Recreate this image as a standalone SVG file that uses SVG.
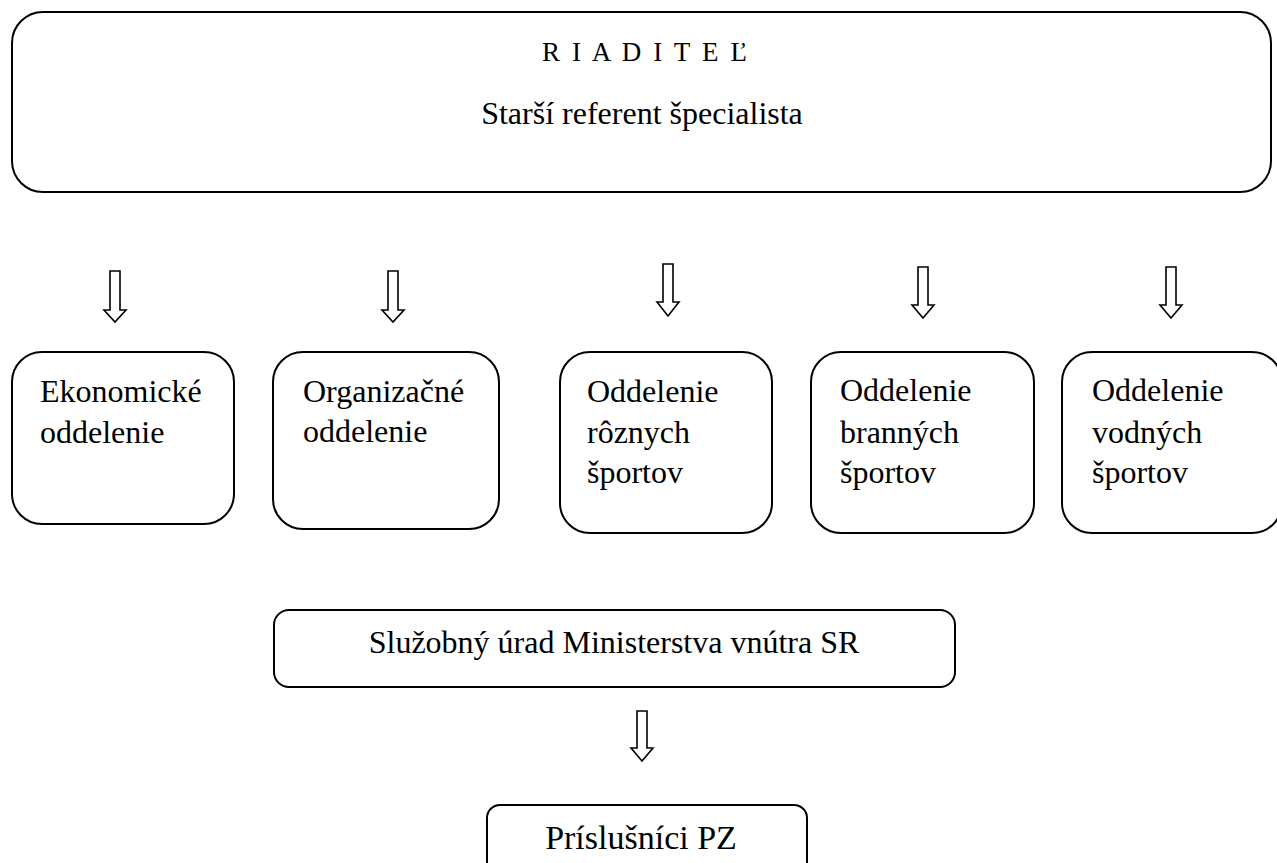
<svg xmlns="http://www.w3.org/2000/svg" width="1277" height="863" viewBox="0 0 1277 863">
<style>
.box{fill:#fff;stroke:#000;stroke-width:2}
.t{font-family:"Liberation Serif","Times New Roman",serif;font-size:32px;fill:#000}
.arr{fill:#fff;stroke:#000;stroke-width:1.6;stroke-linejoin:miter}
</style>
<rect width="1277" height="863" fill="#fff"/>
<g id="riaditel">
<rect class="box" x="12" y="12" width="1259" height="180" rx="31" ry="31"/>
<text class="t" x="542" y="61" style="font-size:27px" textLength="205" lengthAdjust="spacing">R I A D I T E Ľ</text>
<text class="t" x="642" y="124" text-anchor="middle">Starší referent špecialista</text>
</g>
<g id="ekonomicke">
<rect class="box" x="12" y="352" width="222" height="172" rx="30" ry="30"/>
<text class="t" x="40" y="402">Ekonomické</text>
<text class="t" x="40" y="443">oddelenie</text>
</g>
<g id="organizacne">
<rect class="box" x="273" y="352" width="226" height="177" rx="30" ry="30"/>
<text class="t" x="303" y="402">Organizačné</text>
<text class="t" x="303" y="442">oddelenie</text>
</g>
<g id="roznych">
<rect class="box" x="560" y="352" width="212" height="181" rx="30" ry="30"/>
<text class="t" x="587" y="402">Oddelenie</text>
<text class="t" x="587" y="443">rôznych</text>
<text class="t" x="587" y="483">športov</text>
</g>
<g id="brannych">
<rect class="box" x="811" y="352" width="223" height="181" rx="30" ry="30"/>
<text class="t" x="840" y="401">Oddelenie</text>
<text class="t" x="840" y="443">branných</text>
<text class="t" x="840" y="483">športov</text>
</g>
<g id="vodnych">
<rect class="box" x="1062" y="352" width="220" height="181" rx="30" ry="30"/>
<text class="t" x="1092" y="401">Oddelenie</text>
<text class="t" x="1092" y="443">vodných</text>
<text class="t" x="1092" y="483">športov</text>
</g>
<g id="sluzobny">
<rect class="box" x="274" y="610" width="681" height="77" rx="15" ry="15"/>
<text class="t" x="614" y="653" text-anchor="middle">Služobný úrad Ministerstva vnútra SR</text>
</g>
<g id="prislusnici">
<rect class="box" x="487" y="805" width="320" height="80" rx="13" ry="13"/>
<text class="t" x="641" y="849" text-anchor="middle" style="font-size:34px">Príslušníci PZ</text>
</g>
<g id="connectors">
<polygon class="arr" points="110,271 120,271 120,310 126,310 115,322 104,310 110,310"/>
<polygon class="arr" points="388,271 398,271 398,310 404,310 393,322 382,310 388,310"/>
<polygon class="arr" points="663,264 673,264 673,302 679,302 668,316 657,302 663,302"/>
<polygon class="arr" points="918,267 928,267 928,305 934,305 923,318 912,305 918,305"/>
<polygon class="arr" points="1166,267 1176,267 1176,305 1182,305 1171,318 1160,305 1166,305"/>
<polygon class="arr" points="637,711 647,711 647,748 653,748 642,761 631,748 637,748"/>
</g>
</svg>
